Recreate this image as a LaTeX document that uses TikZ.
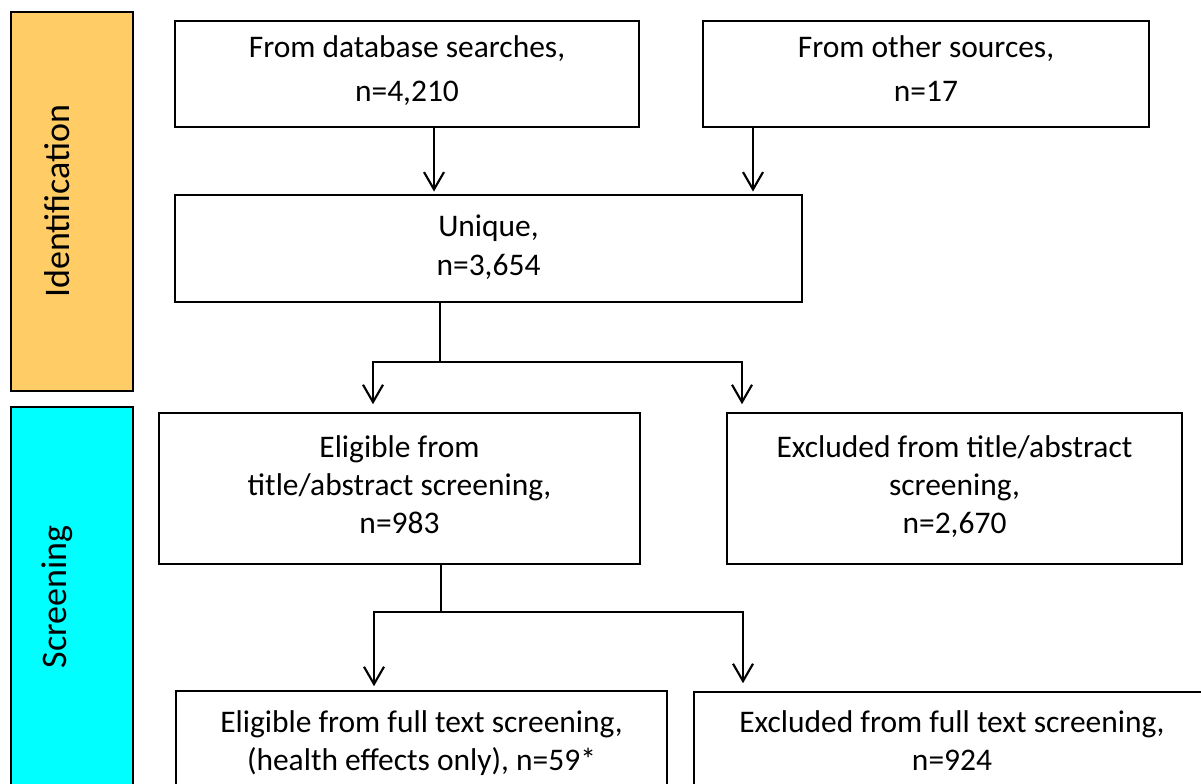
\documentclass[tikz,border=0pt]{standalone}
\usepackage{fontspec}
\setmainfont{Carlito}
\usetikzlibrary{arrows.meta,positioning}
\definecolor{idorange}{RGB}{255,204,102}
\definecolor{scrcyan}{RGB}{0,255,255}
\tikzset{
  box/.style={draw=black, line width=1.2pt, inner sep=0pt},
  txt/.style={anchor=north, inner sep=0pt, align=center, font=\fontsize{23.6}{28.8}\selectfont},
  wide/.style={font=\fontsize{23.6}{33}\selectfont},
  bandtxt/.style={rotate=90, inner sep=0pt, font=\fontsize{27}{32}\selectfont},
  conn/.style={line width=1.6pt},
  arr/.style={conn, -{Straight Barb[length=13pt,width=15pt]}}
}

\begin{document}
\begin{tikzpicture}[x=0.75pt,y=-0.75pt]
\useasboundingbox (0,0) rectangle (1201,783);
% phase bands
\filldraw[fill=idorange, line width=1.2pt] (11,12) rectangle (133,391);
\node[bandtxt] (ident) at (57,201) {Identification};
\filldraw[fill=scrcyan, line width=1.2pt] (11,407) rectangle (133,800);
\node[bandtxt] (screen) at (57,597) {Screening};
% identification boxes
\node[box, minimum width=348pt, minimum height=79.5pt] (db) at (407,74) {};
\node[txt, wide] at (407,35) {From database searches,\\n=4,210};
\node[box, minimum width=334.5pt, minimum height=79.5pt] (other) at (926,74) {};
\node[txt, wide] at (926,35) {From other sources,\\n=17};
\node[box, minimum width=470.25pt, minimum height=80.25pt] (uniq) at (488.5,248.5) {};
\node[txt] at (488.5,215) {Unique,\\n=3,654};
% title/abstract screening
\node[box, minimum width=360.75pt, minimum height=113.25pt] (eligta) at (399.5,488.5) {};
\node[txt] at (399.5,435) {Eligible from\\title/abstract screening,\\n=983};
\node[box, minimum width=341.25pt, minimum height=113.25pt] (exclta) at (954.5,488.5) {};
\node[txt] at (954.5,435) {Excluded from title/abstract\\screening,\\n=2,670};
% full text screening
\node[box, minimum width=368.25pt, minimum height=79.5pt] (eligft) at (421.5,744) {};
\node[txt] at (421.5,710) {Eligible from full text screening,\\(health effects only), n=59*};
\node[box, minimum width=387pt, minimum height=79.5pt] (exclft) at (952,745) {};
\node[txt] at (952,710) {Excluded from full text screening,\\n=924};
% connectors
\draw[arr, shorten >=2pt] ([xshift=20.25pt]db.south) -- ([xshift=20.25pt]db.south |- uniq.north);
\draw[arr, shorten >=2pt] ([xshift=-129.75pt]other.south) -- ([xshift=-129.75pt]other.south |- uniq.north);
\coordinate (sp1) at (440,362);
\coordinate (sp1l) at (373,362);
\coordinate (sp1r) at (742,362);
\draw[conn] (uniq.south -| sp1) -- (sp1);
\draw[arr, shorten >=6pt] (sp1) -| (eligta.north -| sp1l);
\draw[arr, shorten >=6pt] (sp1) -| (exclta.north -| sp1r);
\coordinate (sp2) at (441,612);
\coordinate (sp2l) at (374,612);
\coordinate (sp2r) at (743,612);
\draw[conn] (eligta.south -| sp2) -- (sp2);
\draw[arr, shorten >=3pt] (sp2) -| (eligft.north -| sp2l);
\draw[arr, shorten >=6pt] (sp2) -| (exclft.north -| sp2r);
\end{tikzpicture}
\end{document}
